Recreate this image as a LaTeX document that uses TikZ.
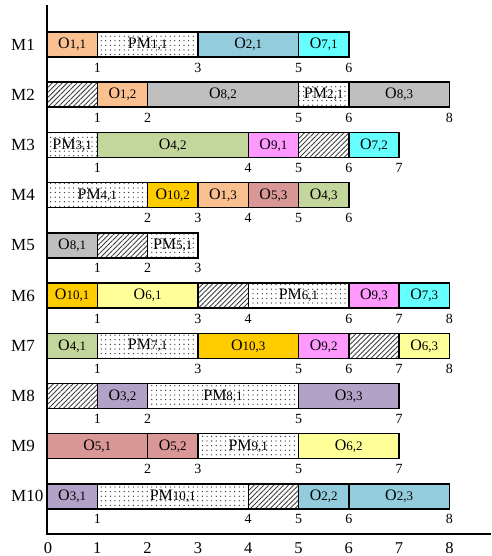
\documentclass[tikz,border=0pt]{standalone}
\usepackage{fontspec}
\setmainfont{Liberation Serif}
\usetikzlibrary{patterns.meta}

\definecolor{c1}{HTML}{FAC090}
\definecolor{c2}{HTML}{93CDDD}
\definecolor{c3}{HTML}{B3A2C7}
\definecolor{c4}{HTML}{C3D69B}
\definecolor{c5}{HTML}{D99795}
\definecolor{c6}{HTML}{FFFF99}
\definecolor{c7}{HTML}{66FFFF}
\definecolor{c8}{HTML}{BFBFBF}
\definecolor{c9}{HTML}{FF99FF}
\definecolor{c10}{HTML}{FFCC00}

% operation / maintenance labels: big letter, smaller index
\newcommand\idx[1]{{\fontsize{13}{13}\selectfont #1}}
\newcommand\opl[1]{O\idx{#1}}
\newcommand\pml[1]{PM\idx{#1}}

% one bar segment on machine row #1 from time #2 to #3
\newcommand\gseg[5]{%
  \node[bar,#4,minimum width={(#3-#2)*50.3pt}] (m#1-#2)
    at ({47+50.3*(#2+#3)/2},{44.5+(#1-1)*50.2}) {#5};}
% time stamps below a row
\newcommand\gticks[2]{%
  \foreach \t in {#2} {\node[tick] (k#1-\t) at ({47+50.3*\t},{44.5+(#1-1)*50.2+23}) {\t};}}
% machine name
\newcommand\grow[1]{%
  \node[rowlab] (lab#1) at (11,{44.5+(#1-1)*50.2}) {M#1};}

\tikzset{
  bar/.style={draw=black, line width=1.4pt, inner sep=0pt, outer sep=0pt,
    minimum height=25pt, font=\fontsize{16}{16}\selectfont},
  op1/.style={fill=c1}, op2/.style={fill=c2}, op3/.style={fill=c3},
  op4/.style={fill=c4}, op5/.style={fill=c5}, op6/.style={fill=c6},
  op7/.style={fill=c7}, op8/.style={fill=c8}, op9/.style={fill=c9},
  op10/.style={fill=c10},
  pm/.style={pattern={Dots[distance=4.6pt,radius=0.65pt]}, pattern color=black!85},
  idle/.style={pattern={Lines[angle=45,distance=3.5pt,line width=0.9pt]}, pattern color=black!75},
  tick/.style={font=\fontsize{14}{14}\selectfont, inner sep=0pt},
  rowlab/.style={anchor=west, font=\fontsize{17}{17}\selectfont, inner sep=0pt},
  axlab/.style={font=\fontsize{16.5}{16.5}\selectfont, inner sep=0pt},
  axis/.style={line width=1.4pt, draw=black}
}

\begin{document}
\begin{tikzpicture}[x=1pt,y=-1pt]
\fill[white] (0,0) rectangle (491,556);
\useasboundingbox (0,0) rectangle (491,556);

% axes
\coordinate (ytop) at (47,5);
\coordinate (orig) at (47,534);
\coordinate (xend) at (491,534);
\draw[axis] (ytop) -- (orig) -- (xend);
\foreach \i in {0,...,8} {\node[axlab] (ax\i) at ({47+50.3*\i+(\i==0?1:0)},548) {\i};}

\foreach \r in {1,...,10} {\grow{\r}}

% M1
\gseg{1}{0}{1}{op1}{\opl{1,1}}
\gseg{1}{1}{3}{pm}{\pml{1,1}}
\gseg{1}{3}{5}{op2}{\opl{2,1}}
\gseg{1}{5}{6}{op7}{\opl{7,1}}
\gticks{1}{1,3,5,6}
% M2
\gseg{2}{0}{1}{idle}{}
\gseg{2}{1}{2}{op1}{\opl{1,2}}
\gseg{2}{2}{5}{op8}{\opl{8,2}}
\gseg{2}{5}{6}{pm}{\pml{2,1}}
\gseg{2}{6}{8}{op8}{\opl{8,3}}
\gticks{2}{1,2,5,6,8}
% M3
\gseg{3}{0}{1}{pm}{\pml{3,1}}
\gseg{3}{1}{4}{op4}{\opl{4,2}}
\gseg{3}{4}{5}{op9}{\opl{9,1}}
\gseg{3}{5}{6}{idle}{}
\gseg{3}{6}{7}{op7}{\opl{7,2}}
\gticks{3}{1,4,5,6,7}
% M4
\gseg{4}{0}{2}{pm}{\pml{4,1}}
\gseg{4}{2}{3}{op10}{\opl{10,2}}
\gseg{4}{3}{4}{op1}{\opl{1,3}}
\gseg{4}{4}{5}{op5}{\opl{5,3}}
\gseg{4}{5}{6}{op4}{\opl{4,3}}
\gticks{4}{2,3,4,5,6}
% M5
\gseg{5}{0}{1}{op8}{\opl{8,1}}
\gseg{5}{1}{2}{idle}{}
\gseg{5}{2}{3}{pm}{\pml{5,1}}
\gticks{5}{1,2,3}
% M6
\gseg{6}{0}{1}{op10}{\opl{10,1}}
\gseg{6}{1}{3}{op6}{\opl{6,1}}
\gseg{6}{3}{4}{idle}{}
\gseg{6}{4}{6}{pm}{\pml{6,1}}
\gseg{6}{6}{7}{op9}{\opl{9,3}}
\gseg{6}{7}{8}{op7}{\opl{7,3}}
\gticks{6}{1,3,4,6,7,8}
% M7
\gseg{7}{0}{1}{op4}{\opl{4,1}}
\gseg{7}{1}{3}{pm}{\pml{7,1}}
\gseg{7}{3}{5}{op10}{\opl{10,3}}
\gseg{7}{5}{6}{op9}{\opl{9,2}}
\gseg{7}{6}{7}{idle}{}
\gseg{7}{7}{8}{op6}{\opl{6,3}}
\gticks{7}{1,3,5,6,7,8}
% M8
\gseg{8}{0}{1}{idle}{}
\gseg{8}{1}{2}{op3}{\opl{3,2}}
\gseg{8}{2}{5}{pm}{\pml{8,1}}
\gseg{8}{5}{7}{op3}{\opl{3,3}}
\gticks{8}{1,2,5,7}
% M9
\gseg{9}{0}{2}{op5}{\opl{5,1}}
\gseg{9}{2}{3}{op5}{\opl{5,2}}
\gseg{9}{3}{5}{pm}{\pml{9,1}}
\gseg{9}{5}{7}{op6}{\opl{6,2}}
\gticks{9}{2,3,5,7}
% M10
\gseg{10}{0}{1}{op3}{\opl{3,1}}
\gseg{10}{1}{4}{pm}{\pml{10,1}}
\gseg{10}{4}{5}{idle}{}
\gseg{10}{5}{6}{op2}{\opl{2,2}}
\gseg{10}{6}{8}{op2}{\opl{2,3}}
\gticks{10}{1,4,5,6,8}
\end{tikzpicture}
\end{document}
